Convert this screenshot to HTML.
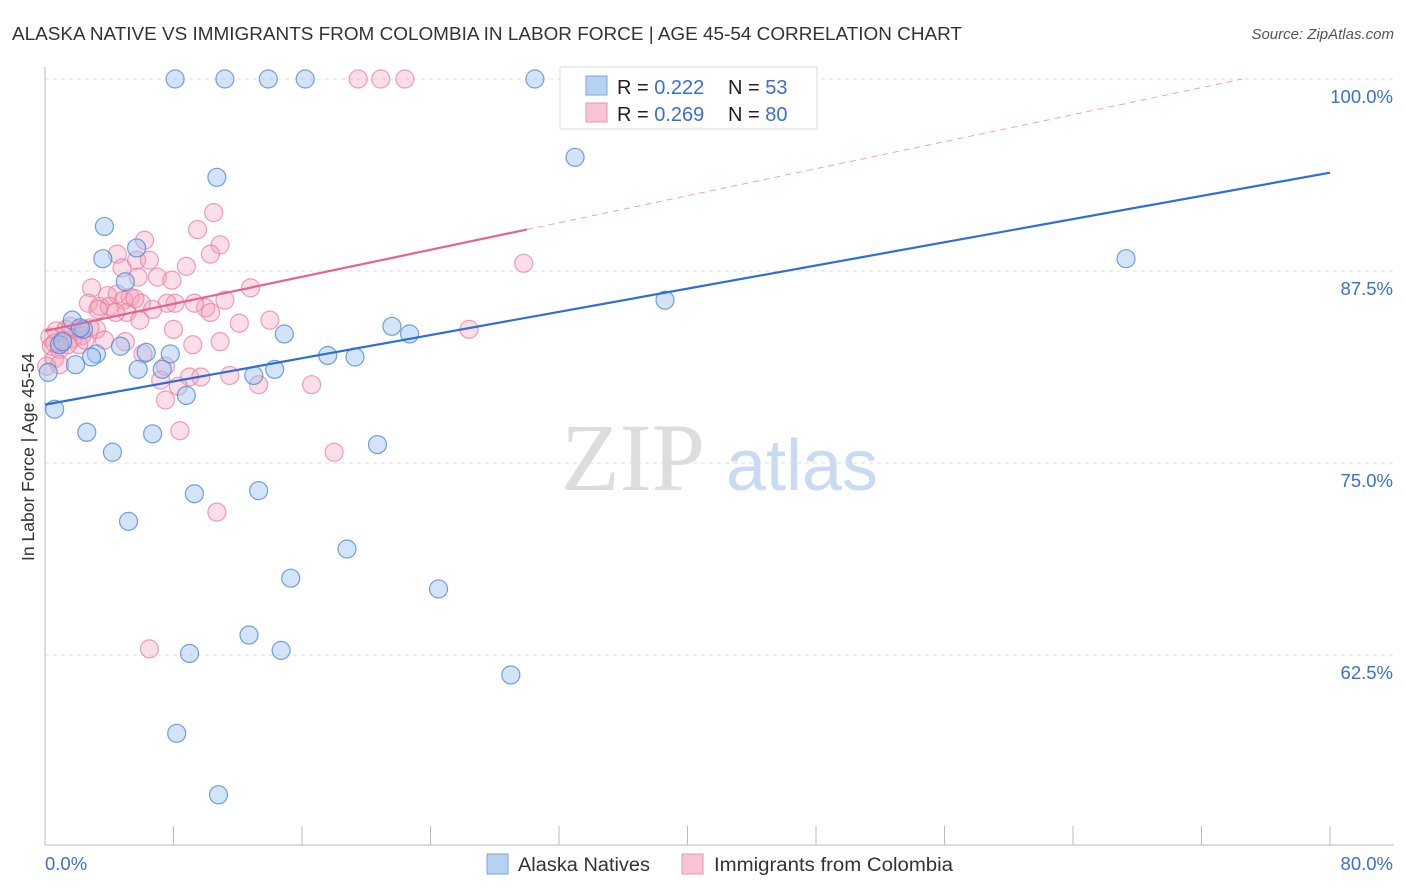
<!DOCTYPE html>
<html><head><meta charset="utf-8">
<style>
body{margin:0;background:#fff;font-family:"Liberation Sans",sans-serif;}
#wrap{position:relative;width:1406px;height:892px;overflow:hidden}
</style></head>
<body>
<div id="wrap">
<svg id="svg" width="1406" height="892" xmlns="http://www.w3.org/2000/svg">
  <text x="12" y="40" font-size="18" fill="#333" textLength="950" lengthAdjust="spacingAndGlyphs">ALASKA NATIVE VS IMMIGRANTS FROM COLOMBIA IN LABOR FORCE | AGE 45-54 CORRELATION CHART</text>
  <text x="1394" y="39" font-size="15" fill="#555" text-anchor="end" font-style="italic">Source: ZipAtlas.com</text>
  <text x="34" y="457" font-size="17.5" fill="#333" text-anchor="middle" transform="rotate(-90 34 457)">In Labor Force | Age 45-54</text>
  <g>
    <text x="633" y="490" font-size="96" font-family="Liberation Serif,serif" fill="#ddd" text-anchor="middle">ZIP</text>
    <text x="802" y="490" font-size="72" fill="#c9daf2" text-anchor="middle">atlas</text>
  </g>
  <g id="grid"></g>
  <g id="axes"></g>
  <g id="marks"></g>
  <g id="lines"></g>
  <g>
    <rect x="560" y="67" width="257" height="62" fill="#fff" stroke="#ddd"/>
    <rect x="586" y="76" width="21" height="19" fill="#b8d1f3" stroke="#7aa5e0"/>
    <rect x="586" y="103" width="21" height="19" fill="#f8c4d3" stroke="#ec94b0"/>
    <text x="617" y="94" font-size="20" fill="#222">R = <tspan fill="#3a70cc">0.222</tspan></text>
    <text x="728" y="94" font-size="20" fill="#222">N = <tspan fill="#3a70cc">53</tspan></text>
    <text x="617" y="121" font-size="20" fill="#222">R = <tspan fill="#3a70cc">0.269</tspan></text>
    <text x="728" y="121" font-size="20" fill="#222">N = <tspan fill="#3a70cc">80</tspan></text>
  </g>
  <g>
    <rect x="487" y="854" width="21" height="20" fill="#b8d1f3" stroke="#7aa5e0"/>
    <text x="518" y="871" font-size="19" fill="#333" textLength="132" lengthAdjust="spacingAndGlyphs">Alaska Natives</text>
    <rect x="682" y="854" width="21" height="20" fill="#f8c4d3" stroke="#ec94b0"/>
    <text x="714" y="871" font-size="19" fill="#333" textLength="239" lengthAdjust="spacingAndGlyphs">Immigrants from Colombia</text>
  </g>
</svg>
</div>
<script>
const yTicks=[100,87.5,75,62.5];
const yTickLabels=["100.0%","87.5%","75.0%","62.5%"];
const xTickVals=[0,8,16,24,32,40,48,56,64,72,80];
const blueX=[8.1,11.2,13.9,16.2,30.5,44.8,33.0,10.7,3.7,5.7,3.6,5.0,67.3,38.6,1.7,2.4,21.6,22.7,14.9,0.9,3.2,2.9,4.7,6.3,7.8,17.6,19.3,1.9,5.8,7.3,14.3,13.0,0.2,8.8,0.6,2.6,6.7,4.2,20.7,9.3,13.3,5.2,18.8,15.3,24.5,12.7,9.0,14.7,29.0,8.2,10.8,1.1,2.2];
const blueY=[100,100,100,100,100,100,94.9,93.6,90.4,89.0,88.3,86.8,88.3,85.6,84.3,83.7,83.9,83.4,83.4,82.7,82.1,81.9,82.6,82.2,82.1,82.0,81.9,81.4,81.1,81.1,81.1,80.7,80.9,79.4,78.5,77.0,76.9,75.7,76.2,73.0,73.2,71.2,69.4,67.5,66.8,63.8,62.6,62.8,61.2,57.4,53.4,82.9,83.8];
const pinkX=[19.5,20.9,22.4,10.5,6.2,9.5,10.9,4.5,5.7,6.5,10.3,8.8,4.8,7.0,7.9,5.8,12.8,2.9,3.9,4.5,5.3,4.9,2.7,3.4,4.0,6.0,8.1,7.6,10.0,10.3,11.2,6.7,5.1,3.3,29.8,12.1,14.0,26.4,8.0,0.7,1.3,2.1,3.2,2.3,1.7,1.1,0.3,0.4,0.9,2.1,5.0,9.2,6.1,7.5,10.9,0.6,0.9,0.1,9.0,9.7,8.3,7.5,13.3,16.6,8.4,18.0,10.7,6.5,2.8,1.6,4.4,9.3,5.6,2.5,0.6,3.7,1.4,11.5,7.2,5.9];
const pinkY=[100,100,100,91.3,89.5,90.2,89.2,88.6,88.2,88.2,88.6,87.8,87.7,87.1,86.9,87.1,86.4,86.4,85.9,86.0,85.8,85.6,85.4,85.2,85.2,85.4,85.4,85.4,85.1,84.8,85.6,85.0,84.8,85.0,88.0,84.1,84.3,83.7,83.7,83.6,83.7,83.7,83.7,83.3,83.1,83.0,83.2,82.6,82.4,82.7,82.9,82.7,82.1,81.3,82.9,81.8,81.4,81.3,80.6,80.6,80.0,79.1,80.1,80.1,77.1,75.7,71.8,62.9,83.8,83.9,84.8,85.4,85.7,83.0,82.8,83.0,82.7,80.7,80.4,84.3];
const blueTrend=[78.8,93.9];   // value at x=0 and x=80
const pinkTrend=[83.6,0.22];  // intercept, slope

const NS="http://www.w3.org/2000/svg";
const X=v=>45+v/80*1285;
const Y=v=>79+(100-v)*15.36;
function mk(t,a,p){const e=document.createElementNS(NS,t);for(const k in a)e.setAttribute(k,a[k]);p.appendChild(e);return e;}
const grid=document.getElementById('grid'),axes=document.getElementById('axes'),marks=document.getElementById('marks'),lines=document.getElementById('lines');
yTicks.forEach((v,i)=>{
  const l=mk('line',{x1:45,x2:1394,y1:Y(v),y2:Y(v),stroke:'#ddd','stroke-dasharray':'4,4'},grid);
  
  
  const t=mk('text',{x:1393,y:Y(v)+24,'font-size':18.5,fill:'#3a70cc','text-anchor':'end'},axes);
  t.textContent=yTickLabels[i];
  
  
});
const ya=mk('line',{x1:45,x2:45,y1:67,y2:845,stroke:'#bbb'},axes);


const xa=mk('line',{x1:45,x2:1394,y1:845,y2:845,stroke:'#bbb'},axes);


xTickVals.forEach(v=>{
  const t=mk('line',{x1:X(v),x2:X(v),y1:826,y2:845,stroke:'#bbb'},axes);
  
  
});
[[0,"0.0%",'start',45],[80,"80.0%",'end',1393]].forEach(d=>{
  const t=mk('text',{x:d[3],y:870,'font-size':18.5,fill:'#3a70cc','text-anchor':d[2]},axes);
  t.textContent=d[1];
  
  
});
pinkX.forEach((x,i)=>{
  const c=mk('circle',{cx:X(x),cy:Y(pinkY[i]),r:9,fill:'rgba(244,160,186,0.35)',stroke:'rgba(232,120,155,0.7)','stroke-width':1.2},marks);
  
  
});
blueX.forEach((x,i)=>{
  const c=mk('circle',{cx:X(x),cy:Y(blueY[i]),r:9,fill:'rgba(160,196,240,0.45)',stroke:'rgba(70,130,215,0.75)','stroke-width':1.2},marks);
  
  
});
const bl=mk('line',{x1:X(0),y1:Y(blueTrend[0]),x2:X(80),y2:Y(blueTrend[1]),stroke:'#2c6fd6','stroke-width':2.2},lines);


const pEnd=30, pMax=(100-pinkTrend[0])/pinkTrend[1];
const pl=mk('line',{x1:X(0),y1:Y(pinkTrend[0]),x2:X(pEnd),y2:Y(pinkTrend[0]+pinkTrend[1]*pEnd),stroke:'#e5638f','stroke-width':2.2},lines);


const pd=mk('line',{x1:X(pEnd),y1:Y(pinkTrend[0]+pinkTrend[1]*pEnd),x2:X(pMax),y2:Y(100),stroke:'#eea0b8','stroke-width':1,'stroke-dasharray':'6,5'},lines);


</script>
</body></html>
